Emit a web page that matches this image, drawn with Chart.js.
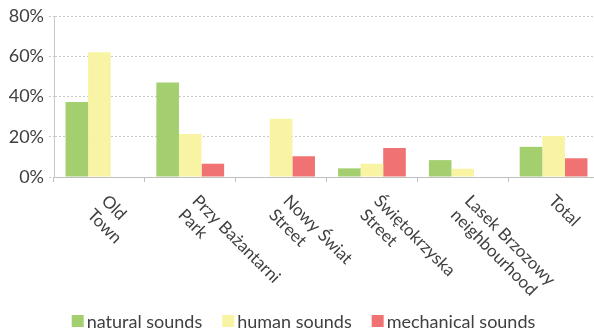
<!DOCTYPE html>
<html lang="en">
<head>
    <meta charset="UTF-8">
    <script src="https://cdn.jsdelivr.net/npm/chart.js@4/dist/chart.umd.min.js"></script>
    <title>Sound sources</title>
    <style>
        html, body { margin: 0; padding: 0; overflow: hidden; background: #fff; }
    </style>
</head>
<body>
    <canvas id="chart" width="600" height="334"></canvas>
    <script>
        const places = ['Old Town', 'Przy Bażantarni Park', 'Nowy Świat Street', 'Świętokrzyska Street', 'Lasek Brzozowy neighbourhood', 'Total'];
        const placeLines = [['Old', 'Town'], ['Przy Bażantarni', 'Park'], ['Nowy Świat', 'Street'], ['Świętokrzyska', 'Street'], ['Lasek Brzozowy', 'neighbourhood'], ['Total']];
        const natural = [37.3, 47, 0, 4.3, 8.4, 15];
        const human = [62, 21.4, 29, 6.6, 4.1, 20.4];
        const mechanical = [0, 6.6, 10.3, 14.4, 0, 9.3];
        const yTicks = [0, 20, 40, 60, 80];

        const font = 'Lato';
        const textColor = '#404040';

        // Excel style labels, rotated 45deg clockwise
        const rotatedLabels = {
            id: 'rotatedLabels',
            afterDraw(chart) {
                const ctx = chart.ctx;
                const x = chart.scales.x;
                ctx.save();
                ctx.font = '17px ' + font;
                ctx.fillStyle = textColor;
                ctx.textAlign = 'left';
                ctx.textBaseline = 'top';
                placeLines.forEach((lines, i) => {
                    const cx = x.getPixelForValue(i);
                    ctx.save();
                    ctx.translate(cx + 4 + 7 * (lines.length - 1), 192);
                    ctx.rotate(Math.PI / 4);
                    lines.forEach((t, j) => ctx.fillText(t, 0, j * 20));
                    ctx.restore();
                });
                ctx.restore();
            }
        };

        // legend with a tight gap between box and text
        const bottomLegend = {
            id: 'bottomLegend',
            afterDraw(chart) {
                const ctx = chart.ctx;
                const sets = chart.data.datasets;
                ctx.save();
                ctx.font = '18px ' + font;
                ctx.textBaseline = 'middle';
                ctx.textAlign = 'left';
                const box = 12, gap = 3, space = 20;
                const widths = sets.map(d => box + gap + ctx.measureText(d.label).width);
                const total = widths.reduce((a, b) => a + b, 0) + space * (sets.length - 1);
                let x = 303.5 - total / 2;
                const y = 321;
                sets.forEach((d, i) => {
                    ctx.fillStyle = d.backgroundColor;
                    ctx.fillRect(x, y - box / 2, box, box);
                    ctx.fillStyle = textColor;
                    ctx.fillText(d.label, x + box + gap, y + 1);
                    x += widths[i] + space;
                });
                ctx.restore();
            }
        };

        new Chart(document.getElementById('chart'), {
            type: 'bar',
            data: {
                labels: places,
                datasets: [
                    { label: 'natural sounds', data: natural, backgroundColor: '#a3cf6f' },
                    { label: 'human sounds', data: human, backgroundColor: '#f8f4a3' },
                    { label: 'mechanical sounds', data: mechanical, backgroundColor: '#f07273' }
                ]
            },
            options: {
                responsive: false,
                animation: false,
                layout: { padding: { top: 16, right: 1, left: 0, bottom: 39 } },
                datasets: {
                    bar: { categoryPercentage: 0.746, barPercentage: 1, borderWidth: 0 }
                },
                plugins: {
                    tooltip: { enabled: false },
                    legend: { display: false }
                },
                scales: {
                    x: {
                        offset: true,
                        afterFit: s => { s.height = 118; },
                        ticks: { display: false },
                        grid: {
                            offset: true,
                            drawOnChartArea: false,
                            drawTicks: true,
                            tickLength: 5,
                            color: '#bfbfbf'
                        },
                        border: { color: '#bfbfbf', width: 1 }
                    },
                    y: {
                        min: 0,
                        max: 80,
                        afterFit: s => { s.width = 54; },
                        afterBuildTicks: s => { s.ticks = yTicks.map(v => ({ value: v })); },
                        ticks: {
                            padding: 5,
                            color: textColor,
                            font: { family: font, size: 18 },
                            callback: v => v + '%'
                        },
                        grid: {
                            color: '#c8c8c8',
                            tickBorderDash: [2, 2],
                            tickLength: 5
                        },
                        border: { color: '#c8c8c8', width: 1, dash: [2, 2] }
                    }
                }
            },
            plugins: [rotatedLabels, bottomLegend]
        });
    </script>
</body>
</html>
